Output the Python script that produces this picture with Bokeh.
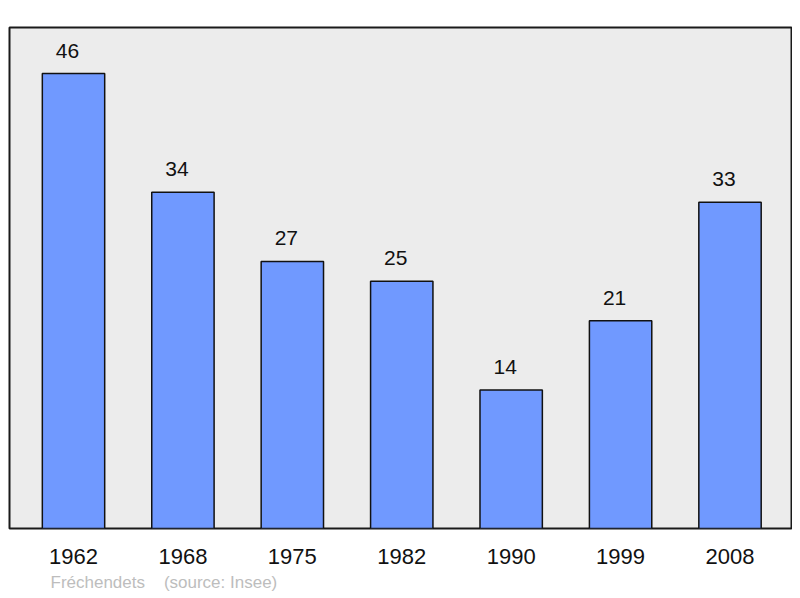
from bokeh.plotting import figure
from bokeh.models import Range1d, FixedTicker, Title, ColumnDataSource
from bokeh.core.properties import value
from bokeh.embed import file_html
from bokeh.resources import INLINE

years = ["1962", "1968", "1975", "1982", "1990", "1999", "2008"]
population = [46, 34, 27, 25, 14, 21, 33]
footer_text = "Fréchendets\u00a0\u00a0\u00a0\u00a0(source: Insee)"

idx = list(range(len(years)))
src = ColumnDataSource(dict(x=idx, top=population, lab=[str(v) for v in population]))

p = figure(width=792, height=596, output_backend="svg", toolbar_location=None,
           x_range=Range1d(-0.585, 6.562), y_range=Range1d(0, 50.66))
p.min_border_left = 9
p.min_border_right = 1
p.min_border_top = 27
p.min_border_bottom = 68
p.background_fill_color = "#ececec"
p.border_fill_color = "white"
p.outline_line_color = "#1a1a1a"
p.outline_line_width = 2
p.xgrid.visible = False
p.ygrid.visible = False
p.yaxis.visible = False

p.vbar(x="x", top="top", width=0.57, source=src, fill_color="#7099ff",
       line_color="#111111", line_width=1.5)
p.text(x="x", y="top", text="lab", source=src, text_align="center",
       text_baseline="middle", x_offset=-6, y_offset=-23,
       text_font=value("Liberation Sans"),
       text_font_size="21px", text_color="#111111")

ax = p.xaxis[0]
ax.ticker = FixedTicker(ticks=idx)
ax.major_label_overrides = {i: y for i, y in zip(idx, years)}
ax.axis_line_color = None
ax.major_tick_line_color = None
ax.minor_tick_line_color = None
ax.major_tick_out = 0
ax.major_label_standoff = 20
ax.major_label_text_font = "Liberation Sans"
ax.major_label_text_font_size = "22px"
ax.major_label_text_color = "#111111"

footer = Title(text=footer_text, align="left", offset=41, standoff=8,
               text_font="Liberation Sans", text_font_size="17px",
               text_font_style="normal", text_color="#bdbdbd")
p.add_layout(footer, "below")

open("out.html", "w").write(file_html(p, INLINE))
